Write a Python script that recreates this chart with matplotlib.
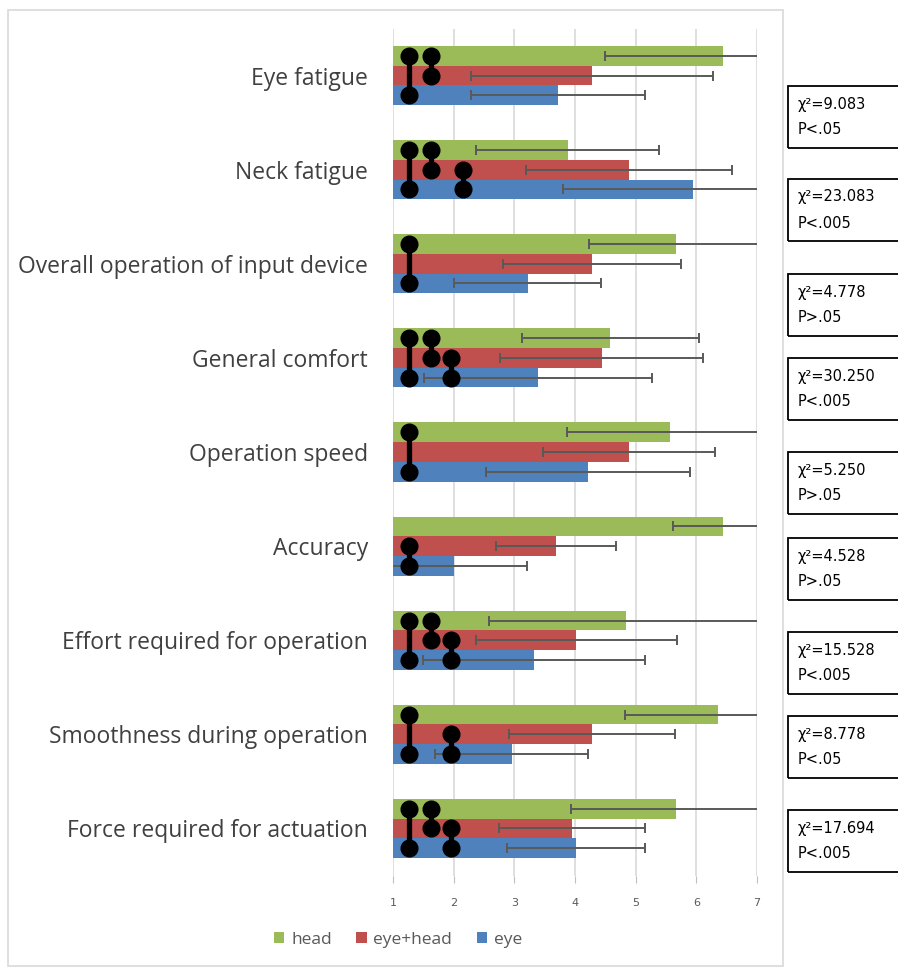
import matplotlib
matplotlib.use("Agg")
import matplotlib.pyplot as plt
from matplotlib.patches import Rectangle
import numpy as np

W, H = 898, 967

categories = ["Eye fatigue", "Neck fatigue", "Overall operation of input device",
              "General comfort", "Operation speed", "Accuracy",
              "Effort required for operation", "Smoothness during operation",
              "Force required for actuation"]
series = ["head", "eye+head", "eye"]
colors = ["#9BBB59", "#C0504D", "#4F81BD"]

head_mean = [6.44, 3.88, 5.66, 4.58, 5.57, 6.44, 4.84, 6.36, 5.66]
eyehead_mean = [4.28, 4.89, 4.28, 4.44, 4.89, 3.69, 4.02, 4.28, 3.95]
eye_mean = [3.72, 5.94, 3.22, 3.39, 4.21, 2.00, 3.32, 2.96, 4.02]

head_sd = [1.95, 1.51, 1.43, 1.46, 1.70, 0.83, 2.26, 1.54, 1.73]
eyehead_sd = [1.99, 1.69, 1.46, 1.67, 1.42, 0.99, 1.66, 1.37, 1.20]
eye_sd = [1.43, 2.14, 1.21, 1.88, 1.68, 1.21, 1.83, 1.26, 1.14]

# significant pairs per category: (series a, series b, column)
sig_cols = [1.26, 1.63, 1.96, 2.15]
sig_pairs = [
    [(0, 2, 0), (0, 1, 1)],
    [(0, 2, 0), (0, 1, 1), (1, 2, 3)],
    [(0, 2, 0)],
    [(0, 2, 0), (0, 1, 1), (1, 2, 2)],
    [(0, 2, 0)],
    [(1, 2, 0)],
    [(0, 2, 0), (0, 1, 1), (1, 2, 2)],
    [(0, 2, 0), (1, 2, 2)],
    [(0, 2, 0), (0, 1, 1), (1, 2, 2)],
]

chi_text = ["9.083", "23.083", "4.778", "30.250", "5.250", "4.528", "15.528", "8.778", "17.694"]
p_text = ["P<.05", "P<.005", "P>.05", "P<.005", "P>.05", "P>.05", "P<.005", "P<.05", "P<.005"]
box_tops = [86, 179, 274, 358, 452, 538, 632, 716, 810]

fig = plt.figure(figsize=(W / 100, H / 100), dpi=100)
ax = fig.add_axes([393 / W, 1 - 875.5 / H, 364 / W, 847 / H])

y = np.arange(len(categories))
bh = 0.209
offsets = [-bh, 0, bh]
means = [head_mean, eyehead_mean, eye_mean]
sds = [head_sd, eyehead_sd, eye_sd]

handles = []
for i in range(3):
    b = ax.barh(y + offsets[i], means[i], height=bh, color=colors[i], label=series[i], zorder=2)
    handles.append(b)
    ax.errorbar(means[i], y + offsets[i], xerr=sds[i], fmt="none", ecolor="#595959",
                elinewidth=1.4, capsize=3.5, capthick=1.4, zorder=3)

for k, pairs in enumerate(sig_pairs):
    for a, b2, c in pairs:
        ax.plot([sig_cols[c], sig_cols[c]], [k + offsets[a], k + offsets[b2]], color="black",
                lw=3.8, marker="o", ms=12, zorder=5)

ax.set_xlim(1, 7)
ax.set_ylim(8.5, -0.5)
ax.set_xticks(range(1, 8))
ax.xaxis.grid(True, color="#D9D9D9", lw=1.2, zorder=0)
ax.set_axisbelow(True)
for s in ax.spines.values():
    s.set_visible(False)
ax.tick_params(axis="x", colors="#BFBFBF", length=5, pad=11, labelsize=8, labelcolor="#595959")
ax.tick_params(axis="y", length=0, pad=18)
ax.set_yticks(y)
ax.set_yticklabels(categories, fontsize=16.5, color="#404040", family="Open Sans")

fig.legend(handles=handles, labels=series, loc="center", bbox_to_anchor=(398 / W, 1 - 940 / H),
           ncol=3, frameon=False, handlelength=0.6, handleheight=0.6, handletextpad=0.4,
           columnspacing=1.4, prop={"family": "Open Sans", "size": 12.5}, labelcolor="#595959")

# chart border
fig.add_artist(Rectangle((8 / W, 1 - 966 / H), 775 / W, 956 / H, transform=fig.transFigure,
                         fill=False, edgecolor="#D9D9D9", lw=1.2))

# chi-square boxes
for k in range(len(chi_text)):
    top = box_tops[k]
    fig.add_artist(Rectangle((788 / W, 1 - (top + 62) / H), 130 / W, 62 / H,
                             transform=fig.transFigure, fill=False, edgecolor="black", lw=1.3))
    fig.text(798 / W, 1 - (top + 18) / H, "χ²=" + chi_text[k], va="center", ha="left",
             fontsize=10.5, color="black")
    fig.text(798 / W, 1 - (top + 44) / H, p_text[k], va="center", ha="left",
             fontsize=10.5, color="black")

fig.savefig("out.png", dpi=100)
